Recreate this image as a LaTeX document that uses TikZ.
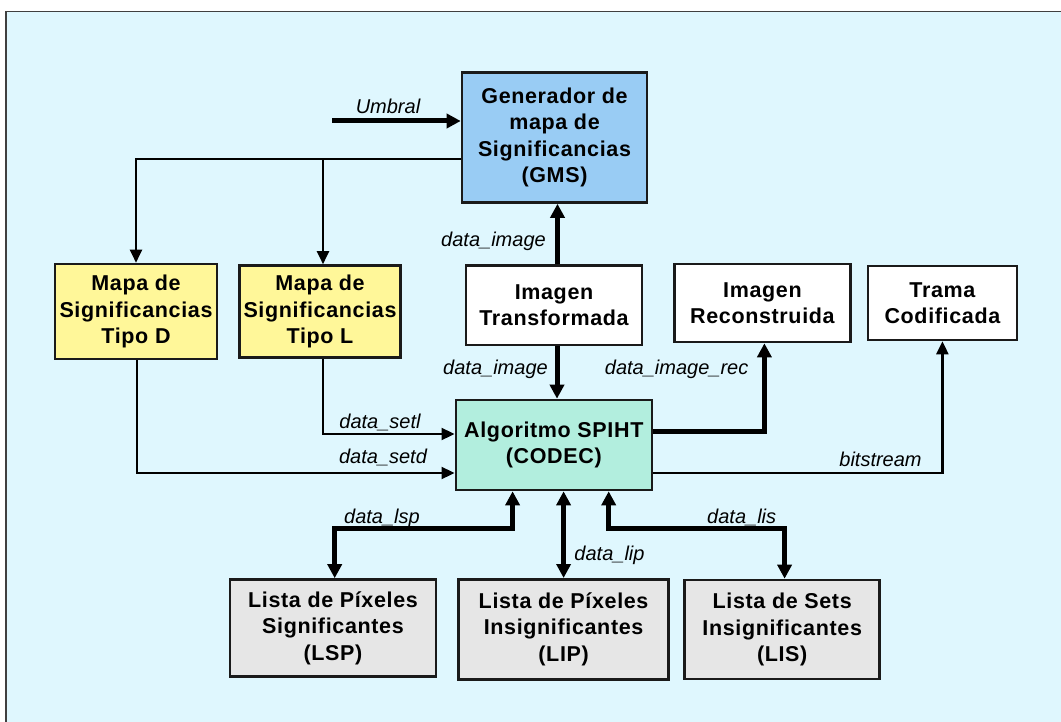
\documentclass[tikz,border=0pt]{standalone}
\usepackage{fontspec}
\setmainfont{Liberation Sans}
\newfontfamily\boxfont{Liberation Sans}[LetterSpace=3]
\usetikzlibrary{arrows.meta,calc}

\definecolor{bgc}{RGB}{223,247,254}
\definecolor{gmsc}{RGB}{153,204,244}
\definecolor{mapc}{RGB}{255,247,153}
\definecolor{codc}{RGB}{178,238,222}
\definecolor{lstc}{RGB}{230,230,230}
\definecolor{edge}{RGB}{26,26,26}

\tikzset{
  blk/.style={draw=edge, line width=2.6pt, inner sep=0pt, align=center,
    font=\boxfont\bfseries\fontsize{21.5}{26.5}\selectfont},
  lbl/.style={anchor=base, inner sep=0pt, font=\itshape\fontsize{20}{24}\selectfont},
  thickarr/.style={line width=5pt, -{Triangle[length=14pt,width=14pt]}},
  thinarr/.style={line width=2.3pt, -{Triangle[length=13pt,width=12pt]}},
  botharr/.style={line width=5pt, {Triangle[length=14pt,width=14pt]}-{Triangle[length=14pt,width=14pt]}},
}

\begin{document}
\begin{tikzpicture}[x=1pt,y=-1pt]
\useasboundingbox (0,0) rectangle (1061,722);
% panel
\fill[bgc] (6,11) rectangle (1061,722);
\draw[line width=1.5pt, black!75] (6,722) -- (6,11.5) -- (1061,11.5);

% blocks
\node[blk, fill=gmsc, minimum width=185pt, minimum height=130pt] (gms) at (554.5,137.5)
  {Generador de\\mapa de\\Significancias\\(GMS)};
\node[blk, fill=mapc, minimum width=162pt, minimum height=95pt] (mapD) at (136,311.5)
  {Mapa de\\Significancias\\Tipo D};
\node[blk, fill=mapc, minimum width=161pt, minimum height=92pt] (mapL) at (320,311.5)
  {Mapa de\\Significancias\\Tipo L};
\node[blk, fill=white, minimum width=176pt, minimum height=79pt] (imgT) at (554,305.3)
  {Imagen\\Transformada};
\node[blk, fill=white, minimum width=176pt, minimum height=78pt] (imgR) at (762.4,303)
  {Imagen\\Reconstruida};
\node[blk, fill=white, minimum width=149pt, minimum height=74pt] (trama) at (942.4,303)
  {Trama\\Codificada};
\node[blk, fill=codc, minimum width=196pt, minimum height=90pt] (spiht) at (553.8,445)
  {Algoritmo SPIHT\\(CODEC)};
\node[blk, fill=lstc, minimum width=206pt, minimum height=97pt] (lsp) at (333,628)
  {Lista de Píxeles\\Significantes\\(LSP)};
\node[blk, fill=lstc, minimum width=210pt, minimum height=100pt] (lip) at (563.6,629.3)
  {Lista de Píxeles\\Insignificantes\\(LIP)};
\node[blk, fill=lstc, minimum width=195pt, minimum height=99pt] (lis) at (782.2,629.5)
  {Lista de Sets\\Insignificantes\\(LIS)};

% threshold input
\coordinate (umb) at (332,121);
\draw[thickarr] (umb) -- (umb -| gms.west);

% significance maps
\coordinate (gmsout) at ($(gms.west)+(0,21.5)$);
\draw[thinarr] (gmsout) -| (mapD.north);
\draw[thinarr] ($(mapL.north |- gmsout)+(3,0)$) -- ($(mapL.north)+(3,0)$);
\draw[thinarr] ($(mapL.south)+(3,0)$) |- ($(spiht.west)+(0,-11)$);
\draw[thinarr] ($(mapD.south)+(1,0)$) |- ($(spiht.west)+(0,28)$);

% image data
\draw[thickarr] ($(imgT.north)+(3.5,0)$) -- ($(gms.south)+(3,0)$);
\draw[thickarr] ($(imgT.south)+(3,0)$) -- ($(spiht.north)+(3.2,0)$);

% outputs
\draw[thickarr] ($(spiht.east)+(0,-13.3)$) -| ($(imgR.south)+(2,0)$);
\draw[thinarr] ($(spiht.east)+(0,27.7)$) -| (trama.south);

% lists
\coordinate (lspin) at ($(spiht.south)+(-41.2,0)$);
\coordinate (lisin) at ($(spiht.south)+(54.9,0)$);
\draw[botharr] (lspin) |- ($(lsp.north)+(1.7,-50)$) -- ($(lsp.north)+(1.7,0)$);
\draw[botharr] (spiht.south -| lip.north) -- (lip.north);
\draw[botharr] (lisin) |- ($(lis.north)+(2.4,-50.5)$) -- ($(lis.north)+(2.4,0)$);

% signal labels
\node[lbl] (tUmb) at (388,114) {Umbral};
\node[lbl] (tImg1) at (493.5,246.7) {data\_image};
\node[lbl] (tImg2) at (495.5,374) {data\_image};
\node[lbl] (tRec) at (676.6,374) {data\_image\_rec};
\node[lbl] (tSetl) at (380,428.3) {data\_setl};
\node[lbl] (tSetd) at (383,463) {data\_setd};
\node[lbl] (tBit) at (880.5,466.7) {bitstream};
\node[lbl] (tLsp) at (382,523) {data\_lsp};
\node[lbl] (tLip) at (609.5,560) {data\_lip};
\node[lbl] (tLis) at (741.7,523) {data\_lis};
\end{tikzpicture}
\end{document}
